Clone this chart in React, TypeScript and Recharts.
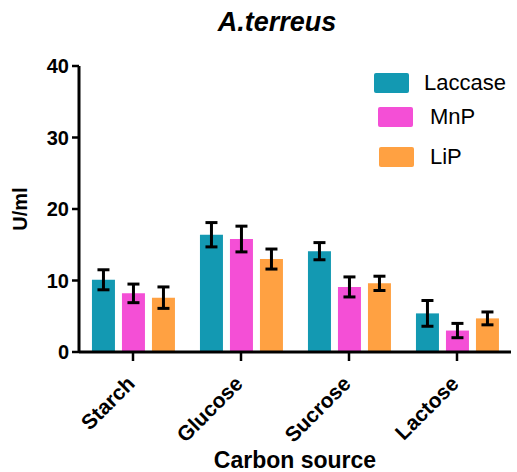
import { BarChart, Bar, XAxis, YAxis, ErrorBar, Legend } from 'recharts';

const categories = ['Starch', 'Glucose', 'Sucrose', 'Lactose'];
const laccase = [10.1, 16.4, 14.1, 5.4];
const laccaseErr = [1.4, 1.7, 1.2, 1.8];
const mnp = [8.2, 15.8, 9.1, 3.0];
const mnpErr = [1.3, 1.8, 1.4, 1.0];
const lip = [7.6, 13.0, 9.6, 4.7];
const lipErr = [1.5, 1.4, 1.0, 0.9];
const yTicks = [0, 10, 20, 30, 40];

const series = [
  { key: 'laccase', name: 'Laccase', color: '#1399b2' },
  { key: 'mnp', name: 'MnP', color: '#f44fd6' },
  { key: 'lip', name: 'LiP', color: '#ffa142' },
];

const data = categories.map((name, i) => ({
  name,
  laccase: laccase[i],
  laccaseErr: laccaseErr[i],
  mnp: mnp[i],
  mnpErr: mnpErr[i],
  lip: lip[i],
  lipErr: lipErr[i],
}));

const FONT = '"Liberation Sans", Arial, sans-serif';

// rotated category labels, end of text sits just right of the tick
const CategoryTick = ({ x, y, payload }: any) => (
  <g transform={`translate(${x + 3},${y + 22})`}>
    <text
      x={0}
      y={0}
      textAnchor="end"
      transform="rotate(-45)"
      fontFamily={FONT}
      fontWeight="bold"
      fontSize={21}
      fill="#000"
    >
      {payload.value}
    </text>
  </g>
);

// legend swatches are a little uneven in the original, so offsets per row
const legendRows = [
  { sx: 374, sy: 73, tx: 424, ty: 70 },
  { sx: 378, sy: 107, tx: 430, ty: 104 },
  { sx: 379, sy: 147, tx: 430, ty: 144 },
];

const CustomLegend = () => (
  <div style={{ position: 'relative', width: 517, height: 200 }}>
    {series.map((s, i) => (
      <div key={s.key}>
        <div
          style={{
            position: 'absolute',
            left: legendRows[i].sx,
            top: legendRows[i].sy,
            width: 35,
            height: 20,
            borderRadius: 2,
            background: s.color,
          }}
        />
        <div
          style={{
            position: 'absolute',
            left: legendRows[i].tx,
            top: legendRows[i].ty,
            fontFamily: FONT,
            fontSize: 22,
            lineHeight: '26px',
            color: '#000',
          }}
        >
          {s.name}
        </div>
      </div>
    ))}
  </div>
);

export default function App() {
  return (
    <div style={{ position: 'absolute', left: 0, top: 0, width: 517, height: 472, background: '#fff' }}>
      <div
        style={{
          position: 'absolute',
          left: 0,
          width: 554,
          top: 9,
          textAlign: 'center',
          fontFamily: FONT,
          fontWeight: 'bold',
          fontStyle: 'italic',
          fontSize: 27,
          lineHeight: '27px',
        }}
      >
        A.terreus
      </div>
      <BarChart
        width={517}
        height={472}
        data={data}
        margin={{ top: 66, right: 6, left: 0, bottom: 0 }}
        barCategoryGap="12%"
        barGap={7}
      >
        <XAxis
          dataKey="name"
          height={120}
          stroke="#000"
          axisLine={{ strokeWidth: 3 }}
          tickLine={{ strokeWidth: 2.5 }}
          tickSize={9}
          tickMargin={2}
          interval={0}
          tick={<CategoryTick />}
          label={{
            value: 'Carbon source',
            position: 'insideBottom',
            offset: 4,
            style: { fontFamily: FONT, fontWeight: 'bold', fontSize: 23, fill: '#000' },
          }}
        />
        <YAxis
          width={79}
          domain={[0, 40]}
          ticks={yTicks}
          stroke="#000"
          axisLine={{ strokeWidth: 3 }}
          tickLine={{ strokeWidth: 2.5 }}
          tickSize={7}
          tickMargin={3}
          tick={{ fontFamily: FONT, fontWeight: 'bold', fontSize: 20, fill: '#000' }}
          label={{
            value: 'U/ml',
            angle: -90,
            position: 'insideLeft',
            offset: 20,
            style: { textAnchor: 'middle', fontFamily: FONT, fontWeight: 'bold', fontSize: 20, fill: '#000' },
          }}
        />
        <Legend
          layout="vertical"
          align="center"
          verticalAlign="middle"
          wrapperStyle={{ position: 'absolute', left: 0, top: 0, width: 517 }}
          content={<CustomLegend />}
        />
        {series.map((s) => (
          <Bar key={s.key} dataKey={s.key} name={s.name} fill={s.color} isAnimationActive={false}>
            <ErrorBar dataKey={`${s.key}Err`} width={6} strokeWidth={3} stroke="#000" />
          </Bar>
        ))}
      </BarChart>
    </div>
  );
}
